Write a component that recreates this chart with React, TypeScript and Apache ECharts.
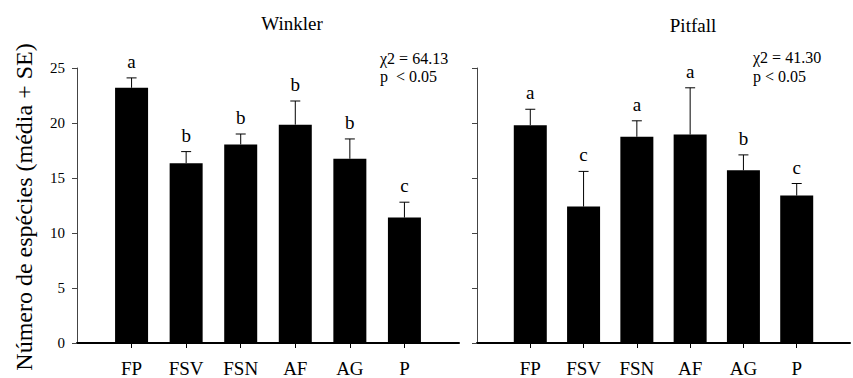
import React, { useEffect, useRef } from "react";
import * as echarts from "echarts";

const categories = ["FP", "FSV", "FSN", "AF", "AG", "P"];
const winklerMean = [23.2, 16.35, 18.05, 19.85, 16.75, 11.4];
const winklerSE = [0.9, 1.05, 0.95, 2.15, 1.8, 1.4];
const winklerLetters = ["a", "b", "b", "b", "b", "c"];
const pitfallMean = [19.8, 12.4, 18.75, 18.95, 15.7, 13.4];
const pitfallSE = [1.45, 3.2, 1.45, 4.25, 1.4, 1.1];
const pitfallLetters = ["a", "c", "a", "a", "b", "c"];
const yTicks = [0, 5, 10, 15, 20, 25];
const panelTitles = ["Winkler", "Pitfall"];
const statsLeft = ["χ2 = 64.13", "p  < 0.05"];
const statsRight = ["χ2 = 41.30", "p < 0.05"];
const yTitle = "Número de espécies (média + SE)";

const FONT = "Liberation Serif";

export default function App() {
  const ref = useRef<HTMLDivElement>(null);
  useEffect(() => {
    const chart = echarts.init(ref.current!, null, { renderer: "svg" });
    const xCats = ["", ...categories, ""];
    const pad = (arr: number[]) => [null, ...arr, null];

    const xAxis = (idx: number) => ({
      type: "category",
      gridIndex: idx,
      data: xCats,
      boundaryGap: false,
      axisLine: { lineStyle: { color: "#000", width: 2 } },
      axisTick: {
        length: 5,
        interval: (i: number) => i > 0 && i < xCats.length - 1,
        lineStyle: { color: "#000", width: 1 },
      },
      axisLabel: {
        interval: 0,
        margin: 16,
        color: "#000",
        fontFamily: FONT,
        fontSize: 19,
      },
      splitLine: { show: false },
    });

    const yAxis = (idx: number, showLabels: boolean) => ({
      type: "value",
      gridIndex: idx,
      min: yTicks[0],
      max: yTicks[yTicks.length - 1],
      interval: 5,
      axisLine: { show: true, lineStyle: { color: "#444", width: 1 } },
      axisTick: { show: true, length: 5, lineStyle: { color: "#444", width: 1 } },
      axisLabel: {
        show: showLabels,
        margin: 12,
        color: "#000",
        fontFamily: FONT,
        fontSize: 15,
      },
      splitLine: { show: false },
    });

    const errSeries = (idx: number, means: number[], ses: number[], letters: string[]) => ({
      type: "custom",
      xAxisIndex: idx,
      yAxisIndex: idx,
      z: 3,
      data: means.map((m, i) => [i + 1, m, m + ses[i]]),
      renderItem: (params: any, api: any) => {
        const x = api.value(0);
        const base = api.coord([x, api.value(1)]);
        const top = api.coord([x, api.value(2)]);
        const cap = 5;
        return {
          type: "group",
          children: [
            {
              type: "line",
              shape: { x1: base[0], y1: base[1], x2: top[0], y2: top[1] },
              style: { stroke: "#000", lineWidth: 1 },
            },
            {
              type: "line",
              shape: { x1: top[0] - cap, y1: top[1], x2: top[0] + cap, y2: top[1] },
              style: { stroke: "#000", lineWidth: 1 },
            },
            {
              type: "text",
              x: top[0],
              y: top[1] - 7,
              style: {
                text: letters[params.dataIndex],
                textAlign: "center",
                textVerticalAlign: "bottom",
                fontFamily: FONT,
                fontSize: 19,
                fill: "#000",
              },
            },
          ],
        };
      },
    });

    const barSeries = (idx: number, means: number[]) => ({
      type: "bar",
      xAxisIndex: idx,
      yAxisIndex: idx,
      data: pad(means),
      barWidth: 33,
      itemStyle: { color: "#000" },
    });

    const textEl = (text: string, x: number, y: number, size: number, align = "left") => ({
      type: "text",
      x,
      y,
      style: {
        text,
        textAlign: align,
        textVerticalAlign: "middle",
        fontFamily: FONT,
        fontSize: size,
        fill: "#000",
      },
    });

    chart.setOption({
      animation: false,
      backgroundColor: "#fff",
      grid: [
        { left: 77, top: 68, width: 382, height: 277 },
        { left: 477, top: 68, width: 382, height: 277 },
      ],
      xAxis: [xAxis(0), xAxis(1)],
      yAxis: [yAxis(0, true), yAxis(1, false)],
      series: [
        barSeries(0, winklerMean),
        errSeries(0, winklerMean, winklerSE, winklerLetters),
        barSeries(1, pitfallMean),
        errSeries(1, pitfallMean, pitfallSE, pitfallLetters),
      ],
      graphic: [
        textEl(panelTitles[0], 292, 23, 19, "center"),
        textEl(panelTitles[1], 693, 25, 19, "center"),
        textEl(statsLeft[0], 380, 58, 16),
        textEl(statsLeft[1], 380, 76, 16),
        textEl(statsRight[0], 753, 57, 16),
        textEl(statsRight[1], 753, 76, 16),
        {
          type: "text",
          x: 24,
          y: 207,
          rotation: Math.PI / 2,
          style: {
            text: yTitle,
            textAlign: "center",
            textVerticalAlign: "middle",
            fontFamily: FONT,
            fontSize: 24,
            fill: "#000",
          },
        },
      ],
    });
    return () => chart.dispose();
  }, []);
  return (
    <div
      ref={ref}
      style={{ position: "absolute", left: 0, top: 0, width: 853, height: 378 }}
    />
  );
}
